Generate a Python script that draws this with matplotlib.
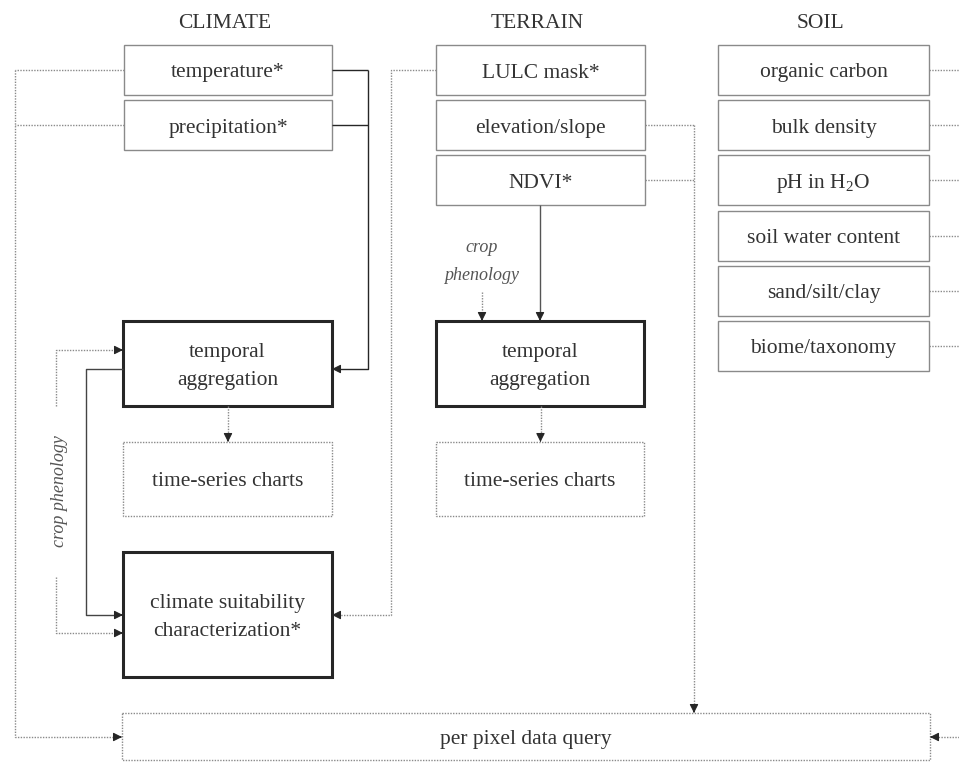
import matplotlib
matplotlib.use("Agg")
import matplotlib.pyplot as plt
from matplotlib.patches import Rectangle

plt.rcParams['font.family'] = ['Liberation Serif', 'DejaVu Serif']
plt.rcParams['mathtext.fontset'] = 'custom'
plt.rcParams['mathtext.rm'] = 'Liberation Serif'
plt.rcParams['mathtext.it'] = 'Liberation Serif:italic'

# Labels
titles = ['CLIMATE', 'TERRAIN', 'SOIL']
climate_inputs = ['temperature*', 'precipitation*']
terrain_inputs = ['LULC mask*', 'elevation/slope', 'NDVI*']
soil_inputs = ['organic carbon', 'bulk density', r'pH in H$_2$O',
               'soil water content', 'sand/silt/clay', 'biome/taxonomy']
process_label = 'temporal\naggregation'
chart_label = 'time-series charts'
suitability_label = 'climate suitability\ncharacterization*'
query_label = 'per pixel data query'
phenology_label = 'crop phenology'

# Layout (pixel coords)
W, H = 959, 762
cols = {'climate': (124, 332), 'terrain': (436, 645), 'soil': (718, 929)}
row_top, row_pitch, row_h = 45, 55.2, 50

TXT = '#333333'
THIN = '#8a8a8a'
DARK = '#262626'
DOT = (0, (1, 1))

fig = plt.figure(figsize=(W / 100, H / 100), dpi=100)
ax = fig.add_axes([0, 0, 1, 1])
ax.set_xlim(0, W)
ax.set_ylim(H, 0)
ax.axis('off')


def box(x0, x1, y0, y1, label, lw=1.0, ec=THIN, ls='-', fs=15.5):
    ax.add_patch(Rectangle((x0, y0), x1 - x0, y1 - y0, fill=False,
                           ec=ec, lw=lw, ls=ls))
    ax.text((x0 + x1) / 2, (y0 + y1) / 2 + 3, label, ha='center', va='center',
            fontsize=fs, color=TXT, linespacing=1.65)


def line(xs, ys, color=THIN, ls=DOT, lw=1.0):
    ax.plot(xs, ys, color=color, ls=ls, lw=lw, solid_capstyle='butt')


def head(x, y, dx, dy, color=DARK):
    # small filled arrowhead ending at (x, y), pointing along (dx, dy)
    ax.annotate('', xy=(x, y), xytext=(x - dx * 2, y - dy * 2),
                arrowprops=dict(arrowstyle='-|>', color=color, lw=0.8,
                                shrinkA=0, shrinkB=0, mutation_scale=13))


def rows(n):
    return [(row_top + i * row_pitch, row_top + i * row_pitch + row_h) for i in range(n)]


# Titles
for t, key in zip(titles, ['climate', 'terrain', 'soil']):
    x0, x1 = cols[key]
    ax.text((x0 + x1) / 2 - 3, 23, t, ha='center', va='center', fontsize=15.5, color=TXT)

# Input boxes
for key, labels in [('climate', climate_inputs), ('terrain', terrain_inputs),
                    ('soil', soil_inputs)]:
    x0, x1 = cols[key]
    for (y0, y1), lab in zip(rows(len(labels)), labels):
        box(x0, x1, y0, y1, lab)

cx0, cx1 = cols['climate']
tx0, tx1 = cols['terrain']
sx0, sx1 = cols['soil']
cy = [(a + b) / 2 for a, b in rows(6)]

# Climate process boxes
box(cx0 - 1, cx1, 321, 406, process_label, lw=2.2, ec=DARK)
box(cx0 - 1, cx1, 442, 516, chart_label, ls=DOT)
box(cx0 - 1, cx1, 552, 677, suitability_label, lw=2.2, ec=DARK)

# Terrain process boxes
box(tx0, tx1 - 1, 321, 406, process_label, lw=2.2, ec=DARK)
box(tx0, tx1 - 1, 442, 516, chart_label, ls=DOT)

# Query box
box(122, 930, 713, 760, query_label, ls=DOT)

# Climate inputs -> temporal aggregation (solid)
line([cx1, 368], [cy[0], cy[0]], color=DARK, ls='-')
line([cx1, 368], [cy[1], cy[1]], color=DARK, ls='-')
line([368, 368, cx1 + 6], [cy[0], 369, 369], color=DARK, ls='-')
head(cx1, 369, -1, 0)

# Climate inputs -> query (dotted)
line([cx0, 15], [cy[0], cy[0]])
line([cx0, 15], [cy[1], cy[1]])
line([15, 15, 116], [cy[0], 737, 737])
head(122, 737, 1, 0)

# LULC -> climate suitability
line([tx0, 391, 391, cx1 + 6], [cy[0], cy[0], 615, 615])
head(cx1, 615, -1, 0)

# elevation / NDVI -> query
line([tx1, 694], [cy[1], cy[1]])
line([tx1, 694], [cy[2], cy[2]])
line([694, 694], [cy[1], 707])
head(694, 713, 0, 1)

# Soil -> query
for c in cy:
    line([sx1, W], [c, c])
line([W, 936], [737, 737])
head(930, 737, -1, 0)

# NDVI -> terrain temporal aggregation
line([540, 540], [row_top + 2 * row_pitch + row_h, 315], color='#555555', ls='-')
head(540, 321, 0, 1)

# Crop phenology (terrain)
ax.text(482, 248, 'crop', ha='center', va='center', fontsize=13,
        style='italic', color='#555555')
ax.text(482, 276, 'phenology', ha='center', va='center', fontsize=13,
        style='italic', color='#555555')
line([482, 482], [292, 315])
head(482, 321, 0, 1)

# Temporal aggregation -> time-series charts
for x in [(cx0 + cx1) / 2, (tx0 + tx1) / 2]:
    line([x, x], [406, 436])
    head(x, 442, 0, 1)

# Climate aggregation -> suitability (solid)
line([cx0 - 1, 86, 86, cx0 - 7], [369, 369, 615, 615], color='#444444', ls='-')
head(cx0 - 1, 615, 1, 0)

# Crop phenology (climate)
ax.text(60, 491, phenology_label, ha='center', va='center', fontsize=13,
        style='italic', color='#555555', rotation=90)
line([56, 56, cx0 - 7], [406, 350, 350])
head(cx0 - 1, 350, 1, 0)
line([56, 56, cx0 - 7], [577, 633, 633])
head(cx0 - 1, 633, 1, 0)

fig.savefig('out.png', dpi=100, facecolor='white')
